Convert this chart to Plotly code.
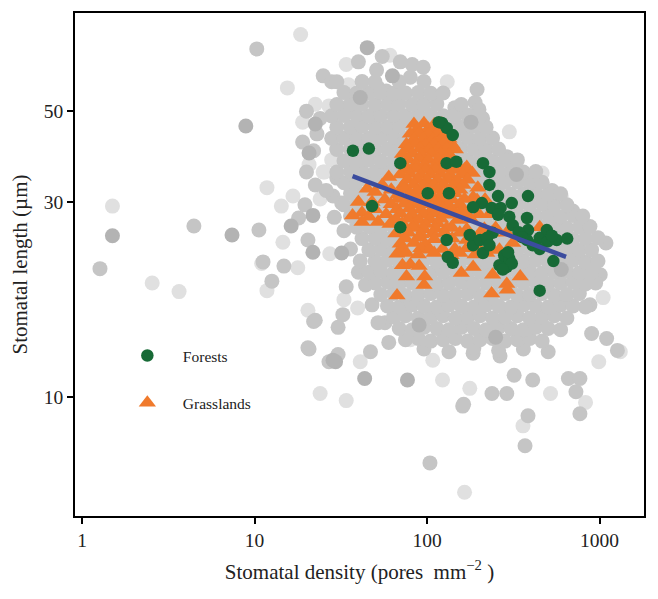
import plotly.graph_objects as go

# (density pores/mm2, stomatal length um)
grey_light = [
    (18.5, 77), (15.5, 57), (22.5, 52), (19, 47), (20.7, 37), (25.5, 35.5), (11.8, 32.5), (16.7, 31),
    (14.3, 29.3), (24, 30.5), (1.5, 29.3), (14.6, 23.9), (17.8, 20.7), (2.55, 19.0), (3.65, 18.1),
    (11.8, 18.2), (20.4, 16.3), (24, 10.2), (11, 21.2), (27.3, 22.4), (33, 17.3), (39.6, 16.5),
    (41, 12.2), (80, 13.8), (108, 12.3), (123, 11), (177, 10.5), (360, 8.5), (520, 10.2), (830, 9.7),
    (1320, 12.9), (990, 12.2), (61, 68.5), (34, 65), (42.5, 58.5), (35, 58), (27, 51.5), (30, 40.5),
    (25, 35.5), (39, 26.6), (131, 59), (300, 44.5), (465, 35.3), (600, 31), (890, 24.5), (740, 18),
    (165, 5.85), (34, 9.8), (28, 38), (1050, 17.5), (950, 21.5),
]

grey_mid = [
    # scattered points
    (10.3, 71), (25, 61), (20, 50), (24, 48), (19, 42), (20, 35.5), (19.6, 29.5), (18, 27.4),
    (1.27, 20.6), (4.45, 26.2), (10.6, 25.6), (20.4, 24.2), (11.2, 21.4), (14.8, 20.9), (12.6, 19.2),
    (22, 15.3), (20.7, 13.1), (27, 12.2), (40, 20.2), (34, 18.6), (22.5, 15.4), (30.5, 14.8),
    (32.5, 15.9), (57, 15.2), (20.4, 13.2), (30.5, 12.7), (47, 12.9), (161, 9.5), (238, 10.2),
    (290, 10.2), (320, 11.3), (410, 11), (385, 9), (370, 7.6), (660, 11.1), (770, 11.1), (730, 10.3),
    (770, 9.1), (104, 6.9), (900, 14.3), (880, 16.8), (1100, 13.9), (1270, 13), (1010, 19.9),
    (800, 20), (185, 12.8), (265, 12.6), (82, 65), (51, 63), (80, 60.5), (28, 59), (52, 57), (58, 56),
    (33.5, 51), (28.5, 31), (32, 29.8), (30, 34.3), (195, 56.5), (190, 52.5), (200, 50.5), (210, 48),
    (145, 51), (290, 38.7), (310, 35.3), (530, 32), (700, 28.5), (790, 27.6), (1090, 23.8), (163, 9.6),
    (40, 66), (55, 68), (70, 66), (95, 64), (23, 44), (22, 40), (22.5, 33), (26, 32), (29, 27.5),
    (33, 25.5), (36, 23), (41, 21.5), (44, 18.8), (48, 16.8), (52, 15.2), (60, 13.6),
    # dense cloud
    (96, 13.1), (134, 12.9), (187, 13.2), (260, 13.0), (362, 13.1), (504, 12.9),
    (75, 13.8), (89, 13.9), (105, 13.7), (124, 13.8), (146, 13.9), (172, 13.7), (203, 13.8), (240, 13.9),
    (283, 13.7), (334, 13.8), (394, 13.9), (465, 13.7),
    (69, 14.7), (82, 14.6), (96, 14.8), (114, 14.7), (134, 14.6), (158, 14.8), (187, 14.7), (220, 14.6),
    (260, 14.8), (307, 14.7), (362, 14.6), (427, 14.8), (504, 14.7), (595, 14.6),
    (64, 15.7), (75, 15.8), (89, 15.6), (105, 15.7), (124, 15.8), (146, 15.6), (172, 15.7), (203, 15.8),
    (240, 15.6), (283, 15.7), (334, 15.8), (394, 15.6), (465, 15.7), (548, 15.8), (647, 15.6),
    (59, 16.7), (69, 16.6), (82, 16.8), (96, 16.7), (114, 16.6), (134, 16.8), (158, 16.7), (187, 16.6),
    (220, 16.8), (260, 16.7), (307, 16.6), (362, 16.8), (427, 16.7), (504, 16.6), (595, 16.8), (702, 16.7),
    (829, 16.6),
    (54, 17.8), (64, 17.9), (75, 17.7), (89, 17.8), (105, 17.9), (124, 17.7), (146, 17.8), (172, 17.9),
    (203, 17.7), (240, 17.8), (283, 17.9), (334, 17.7), (394, 17.8), (465, 17.9), (548, 17.7), (647, 17.8),
    (764, 17.9),
    (50, 19.0), (59, 19.1), (69, 18.9), (82, 19.0), (96, 19.1), (114, 18.9), (134, 19.0), (158, 19.1),
    (187, 18.9), (220, 19.0), (260, 19.1), (307, 18.9), (362, 19.0), (427, 19.1), (504, 18.9), (595, 19.0),
    (702, 19.1), (829, 18.9), (950, 19.0),
    (46, 20.2), (54, 20.3), (64, 20.1), (75, 20.2), (89, 20.3), (105, 20.1), (124, 20.2), (146, 20.3),
    (172, 20.1), (203, 20.2), (240, 20.3), (283, 20.1), (334, 20.2), (394, 20.3), (465, 20.1), (548, 20.2),
    (647, 20.3), (764, 20.1), (900, 20.2),
    (50, 21.5), (59, 21.6), (69, 21.4), (82, 21.5), (96, 21.6), (114, 21.4), (134, 21.5), (158, 21.6),
    (187, 21.4), (220, 21.5), (260, 21.6), (307, 21.4), (362, 21.5), (427, 21.6), (504, 21.4), (595, 21.5),
    (702, 21.6), (829, 21.4), (980, 21.5),
    (46, 22.9), (54, 23.0), (64, 22.8), (75, 22.9), (89, 23.0), (105, 22.8), (124, 22.9), (146, 23.0),
    (172, 22.8), (203, 22.9), (240, 23.0), (283, 22.8), (334, 22.9), (394, 23.0), (465, 22.8), (548, 22.9),
    (647, 23.0), (764, 22.8), (900, 22.9),
    (42, 24.4), (50, 24.5), (59, 24.3), (69, 24.4), (82, 24.5), (96, 24.3), (114, 24.4), (134, 24.5),
    (158, 24.3), (187, 24.4), (220, 24.5), (260, 24.3), (307, 24.4), (362, 24.5), (427, 24.3), (504, 24.4),
    (595, 24.5), (702, 24.3), (829, 24.4), (980, 24.5),
    (39, 26.0), (46, 26.1), (54, 25.9), (64, 26.0), (75, 26.1), (89, 25.9), (105, 26.0), (124, 26.1),
    (146, 25.9), (172, 26.0), (203, 26.1), (240, 25.9), (283, 26.0), (334, 26.1), (394, 25.9), (465, 26.0),
    (548, 26.1), (647, 25.9), (764, 26.0), (880, 26.1),
    (36, 27.7), (42, 27.8), (50, 27.6), (59, 27.7), (69, 27.8), (82, 27.6), (96, 27.7), (114, 27.8),
    (134, 27.6), (158, 27.7), (187, 27.8), (220, 27.6), (260, 27.7), (307, 27.8), (362, 27.6), (427, 27.7),
    (504, 27.8), (595, 27.6), (702, 27.8), (800, 27.7),
    (33, 29.5), (39, 29.6), (46, 29.4), (54, 29.5), (64, 29.6), (75, 29.4), (89, 29.5), (105, 29.6),
    (124, 29.4), (146, 29.5), (172, 29.6), (203, 29.4), (240, 29.5), (283, 29.6), (334, 29.4), (394, 29.5),
    (465, 29.6), (548, 29.4), (647, 29.5),
    (36, 31.5), (42, 31.3), (50, 31.4), (59, 31.5), (69, 31.3), (82, 31.4), (96, 31.5),
    (114, 31.3), (134, 31.4), (158, 31.5), (187, 31.3), (220, 31.4), (260, 31.5), (307, 31.3), (362, 31.4),
    (427, 31.5), (504, 31.3), (595, 31.4),
    (33, 33.4), (39, 33.5), (46, 33.6), (54, 33.4), (64, 33.5), (75, 33.6), (89, 33.4),
    (105, 33.5), (124, 33.6), (146, 33.4), (172, 33.5), (203, 33.6), (240, 33.4), (283, 33.5), (334, 33.6),
    (394, 33.4), (465, 33.5),
    (30, 35.5), (36, 35.6), (42, 35.7), (50, 35.5), (59, 35.6), (69, 35.7), (82, 35.5),
    (96, 35.6), (114, 35.7), (134, 35.5), (158, 35.6), (187, 35.7), (220, 35.5), (260, 35.6), (307, 35.7),
    (362, 35.5), (427, 35.6),
    (33, 37.8), (39, 37.9), (46, 38.0), (54, 37.8), (64, 37.9), (75, 38.0), (89, 37.8),
    (105, 37.9), (124, 38.0), (146, 37.8), (172, 37.9), (203, 38.0), (240, 37.8), (283, 37.9), (334, 38.0),
    (30, 40.3), (36, 40.4), (42, 40.5), (50, 40.3), (59, 40.4), (69, 40.5), (82, 40.3),
    (96, 40.4), (114, 40.5), (134, 40.3), (158, 40.4), (187, 40.5), (220, 40.3), (260, 40.4),
    (28, 42.9), (33, 43.0), (39, 43.1), (46, 42.9), (54, 43.0), (64, 43.1), (75, 42.9),
    (89, 43.0), (105, 43.1), (124, 42.9), (146, 43.0), (172, 43.1), (203, 42.9), (240, 43.0),
    (30, 45.7), (36, 45.8), (42, 45.9), (50, 45.7), (59, 45.8), (69, 45.9), (82, 45.7),
    (96, 45.8), (114, 45.9), (134, 45.7), (158, 45.8), (187, 45.9), (220, 45.7),
    (28, 48.7), (33, 48.8), (39, 48.9), (46, 48.7), (54, 48.8), (64, 48.9), (75, 48.7),
    (89, 48.8), (105, 48.9), (124, 48.7), (146, 48.8), (172, 48.9), (203, 48.7),
    (30, 51.9), (36, 52.0), (42, 52.1), (50, 51.9), (59, 52.0), (69, 52.1), (82, 51.9),
    (96, 52.0), (114, 52.1), (158, 51.9),
    (33, 55.5), (39, 55.3), (46, 55.4), (54, 55.5), (64, 55.3), (75, 55.4), (89, 55.5), (105, 55.3),
    (124, 55.4),
    (30, 59.0), (42, 59.1), (50, 58.9), (69, 59.0), (96, 59.1),
]

grey_dark = [
    (22.5, 46.5), (8.9, 46), (20.7, 39.5), (21.8, 27.8), (16.3, 26.2), (1.5, 24.8), (7.4, 24.9),
    (21.8, 22.6), (32, 22.5), (29.5, 12.2), (43.5, 11.1), (77, 11.0), (28.5, 12.3), (45, 71.5),
    (63, 61), (41, 54), (90, 15), (250, 14), (600, 20.5), (330, 35), (180, 47),
]

grasslands = [
    (84, 46.5), (96, 46.7), (110, 46.4), (122, 46.6),
    (88, 45.2), (102, 45.3), (116, 45.1),
    (80, 44), (90, 44.1), (102, 43.9), (115, 44), (128, 44.2),
    (84, 42.7), (95, 42.8), (108, 42.6), (121, 42.7), (134, 42.8),
    (76, 41.5), (86, 41.6), (98, 41.4), (110, 41.5), (124, 41.6), (140, 41.4),
    (78, 40.4), (91, 40.5), (103, 40.3), (116, 40.4), (130, 40.5), (146, 40.3),
    (72, 39.3), (82, 39.4), (93, 39.2), (106, 39.3), (120, 39.4), (134, 39.2),
    (78, 38.1), (90, 38.2), (102, 38), (116, 38.1), (130, 38.2), (142, 38),
    (74, 37), (86, 37.1), (97, 36.9), (112, 37), (126, 37.1), (150, 36.9), (170, 36.5),
    (75, 36), (86, 36.1), (98, 35.9), (112, 36), (128, 36.1), (145, 35.9), (165, 36),
    (70, 35), (80, 35.1), (92, 34.9), (105, 35), (120, 35.1), (136, 34.9), (160, 35), (183, 35.3),
    (60, 34.5), (77, 34), (88, 34.1), (100, 33.9), (115, 34), (132, 34.1), (150, 33.9), (172, 34),
    (55, 33), (73, 33), (84, 33.1), (96, 32.9), (110, 33), (125, 33.1), (142, 32.9), (162, 33), (197, 32.5),
    (62, 32.1), (74, 32.2), (87, 32), (100, 32.1), (115, 32.2), (132, 32), (155, 32.1),
    (45, 32.3), (50, 31.7), (68, 31.3), (80, 31.4), (92, 31.2), (106, 31.3), (122, 31.4), (145, 31.5),
    (185, 30.8), (217, 30.4),
    (40, 30), (48, 30), (57, 30.4), (68, 30.5), (80, 30.3), (93, 30.4), (108, 30.5), (123, 30.3),
    (140, 30.4), (165, 30.5), (195, 30.3),
    (62, 29.6), (74, 29.7), (86, 29.5), (100, 29.6), (115, 29.7), (132, 29.5), (155, 29.6),
    (50, 28.8), (67, 28.8), (79, 28.9), (92, 28.7), (107, 28.8), (123, 28.9), (140, 28.7), (160, 28.8),
    (185, 28.9),
    (37, 27.8), (42, 28.2), (46, 27.6), (58, 28), (70, 28.1), (82, 27.9), (96, 28), (112, 28.1),
    (128, 27.9), (148, 28), (168, 28.1), (200, 28), (230, 28),
    (66, 27.2), (78, 27.3), (90, 27.1), (104, 27.2), (120, 27.3), (150, 27.1), (180, 27.2),
    (42, 26.8), (52, 26.8), (61, 26.5), (72, 26.6), (84, 26.4), (98, 26.5), (115, 26.6), (139, 26),
    (70, 25.8), (83, 25.9), (96, 25.7), (112, 25.8), (130, 25.9), (170, 25.7), (215, 25.8), (250, 25.9),
    (66, 25.1), (78, 25.2), (92, 25), (108, 25.1), (126, 25.2), (155, 25.2), (203, 25.2), (237, 25.2),
    (290, 25.2), (450, 26),
    (75, 24.4), (90, 24.5), (110, 24.3), (140, 24.4), (185, 24.5), (215, 24.3),
    (70, 23.7), (84, 23.8), (98, 23.6), (123, 23), (170, 24.2), (195, 23.4), (314, 23.8),
    (72, 23), (92, 23.1), (104, 22.9), (145, 23), (170, 23.1), (240, 22.9),
    (67, 22.4), (76, 22.5), (89, 22.3), (110, 22.5), (138, 22.2), (155, 22.5), (190, 22.3), (222, 22.5),
    (263, 22.9),
    (72, 21), (80, 21.1), (90, 20.9), (158, 20.1), (185, 20.8),
    (76, 19.7), (97, 19.7), (240, 19.9), (347, 19.7),
    (96, 18.8), (290, 18.9),
    (67, 17.7), (237, 17.9), (292, 18.3),
]

forests = [
    (122, 46.8), (130, 45.5), (141, 43.7), (117, 47), (37.2, 40), (46, 40.5), (130, 37.3), (148, 37.6),
    (211, 37.3), (230, 35.5), (70, 37.3), (101, 31.5), (134, 31.5), (230, 33), (258, 31), (385, 31),
    (48, 29.3), (208, 29.8), (237, 29), (267, 29), (310, 29.8), (300, 27.6), (380, 27.4), (185, 29.1),
    (258, 27.9), (314, 26.3), (385, 25.6), (450, 24.5), (500, 24), (565, 24.2), (650, 24.4), (495, 25.6),
    (380, 24.2), (410, 23.5), (540, 21.5), (450, 18.2), (263, 21.0), (280, 22.2), (290, 20.8), (300, 21.8),
    (310, 21.2), (275, 20.5), (295, 22.6), (211, 22.5), (185, 23.5), (240, 25.2), (132, 22), (141, 21.3),
    (130, 24.2), (177, 24.9), (203, 24.2), (223, 24.5), (230, 23.5), (70, 26), (340, 25.3), (355, 24.6),
    (450, 23), (530, 24.8),
]

fit_density = [37, 640]
fit_length = [34.7, 22.0]

x_ticks = [1, 10, 100, 1000]
y_ticks = [10, 30, 50]

SERIF = "Liberation Serif, Times New Roman, serif"
NBSP = "\u00a0" * 4


def xs(points):
    return [p[0] for p in points]


def ys(points):
    return [p[1] for p in points]


fig = go.Figure()

for pts, colour in [(grey_light, "#e0e0e0"), (grey_mid, "#c5c5c5"), (grey_dark, "#b3b3b3")]:
    fig.add_trace(go.Scatter(
        x=xs(pts), y=ys(pts), mode="markers", showlegend=False, hoverinfo="skip",
        marker=dict(size=15, color=colour, line=dict(width=0)),
    ))

fig.add_trace(go.Scatter(
    x=xs(grasslands), y=ys(grasslands), mode="markers", name=NBSP + "Grasslands",
    legendgroup="g", legendrank=2,
    marker=dict(symbol="triangle-up", size=15, color="#f07a2c", line=dict(width=0)),
))

fig.add_trace(go.Scatter(
    x=xs(forests), y=ys(forests), mode="markers", name=NBSP + "Forests",
    legendgroup="f", legendrank=1,
    marker=dict(size=12.5, color="#176a36", line=dict(width=0)),
))

fig.add_trace(go.Scatter(
    x=fit_density, y=fit_length, mode="lines", showlegend=False, hoverinfo="skip",
    line=dict(color="#3b4c9e", width=4.5),
))

axis_common = dict(
    type="log", showgrid=False, zeroline=False, showline=True, linecolor="black", linewidth=1.6,
    mirror=True, ticks="outside", ticklen=6, tickwidth=2, tickcolor="black", automargin=False,
    tickfont=dict(family=SERIF, size=19.5, color="#222"),
)

# the page body adds an 8px offset, so margins are shifted to land the plot where the reference has it
fig.update_layout(
    width=658, height=599,
    margin=dict(l=67, r=22, t=5, b=91),
    plot_bgcolor="white", paper_bgcolor="white",
    xaxis=dict(
        axis_common, range=[-0.041, 3.258], tickmode="array", tickvals=x_ticks,
        ticktext=[str(v) for v in x_ticks],
        title=dict(text="Stomatal density (pores  mm<sup>\u22122</sup> )",
                   font=dict(family=SERIF, size=21, color="#222"), standoff=14),
    ),
    yaxis=dict(
        axis_common, range=[0.709, 1.939], tickmode="array", tickvals=y_ticks,
        ticktext=[str(v) for v in y_ticks],
        title=dict(text="Stomatal length (\u00b5m)",
                   font=dict(family=SERIF, size=21, color="#222"), standoff=10),
    ),
    legend=dict(
        x=0.092, y=0.352, xanchor="left", yanchor="top", bgcolor="rgba(0,0,0,0)",
        font=dict(family=SERIF, size=15.5, color="#222"), tracegroupgap=24,
        itemsizing="trace",
    ),
)

fig.write_html("out.html")
